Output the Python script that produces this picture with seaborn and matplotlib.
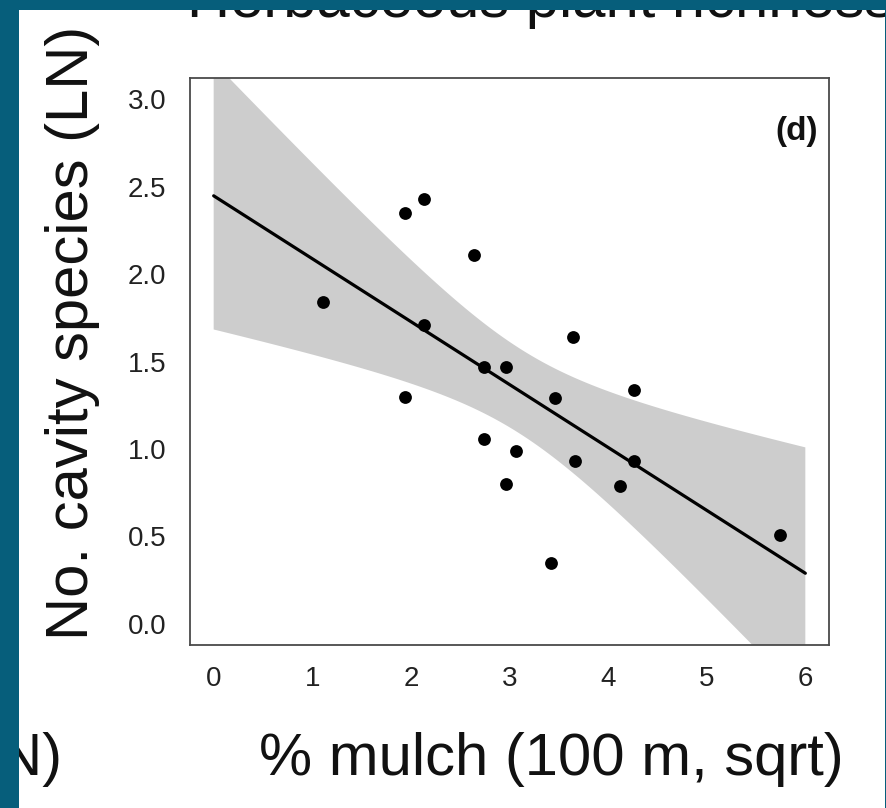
import numpy as np
import pandas as pd
import seaborn as sns
import matplotlib.pyplot as plt
from matplotlib.patches import Rectangle

# ---- data ----
mulch = [1.11, 1.94, 2.13, 2.13, 1.94, 2.64, 2.74, 2.96, 2.74, 3.07,
         2.96, 3.64, 3.46, 3.42, 3.66, 4.26, 4.26, 4.12, 5.74]
cavity = [1.84, 2.35, 2.43, 1.71, 1.30, 2.11, 1.47, 1.47, 1.06, 0.99,
          0.80, 1.64, 1.29, 0.35, 0.93, 1.34, 0.93, 0.79, 0.51]
x_ticks = [0, 1, 2, 3, 4, 5, 6]
y_ticks = [0.0, 0.5, 1.0, 1.5, 2.0, 2.5, 3.0]
y_tick_labels = ["0.0", "0.5", "1.0", "1.5", "2.0", "2.5", "3.0"]
x_label = "% mulch (100 m, sqrt)"
y_label = "No. cavity species (LN)"
title_text = "Herbaceous plant richness (LN)"
panel_tag = "(d)"
left_cut_text = "(LN)"
band_mult = 2.35  # width multiplier of the confidence band (standard errors)

sns.set_style("white")
plt.rcParams['font.family'] = ['Liberation Sans', 'DejaVu Sans']

W, H = 887, 808
fig = plt.figure(figsize=(W / 100, H / 100), dpi=100)
fig.patch.set_facecolor('white')

# axes box in pixels: left 190, right 829, top 78, bottom 645
ax = fig.add_axes([190 / W, 1 - 645 / H, (829 - 190) / W, (645 - 78) / H])
ax.set_facecolor('white')
ax.set_xlim(0, 6)

df = pd.DataFrame({'mulch': mulch, 'cavity': cavity})

# confidence band of the linear fit, computed from the data
xv = np.asarray(mulch)
yv = np.asarray(cavity)
n = len(xv)
slope, intercept = np.polyfit(xv, yv, 1)
resid = yv - (intercept + slope * xv)
s = np.sqrt((resid ** 2).sum() / (n - 2))
sxx = ((xv - xv.mean()) ** 2).sum()
grid = np.linspace(0, 6, 200)
yhat = intercept + slope * grid
se = s * np.sqrt(1 / n + (grid - xv.mean()) ** 2 / sxx)
ax.fill_between(grid, yhat - band_mult * se, yhat + band_mult * se,
                facecolor='#cdcdcd', edgecolor='none', zorder=1)

sns.regplot(data=df, x='mulch', y='cavity', ax=ax, truncate=False, ci=None,
            scatter_kws=dict(s=85, color='black', linewidths=0, zorder=4, alpha=1),
            line_kws=dict(color='black', lw=2.3, zorder=3))

ax.set_xlim(-0.24, 6.24)
ax.set_ylim(-0.12, 3.12)
ax.set_xticks(x_ticks)
ax.set_xticklabels([str(t) for t in x_ticks])
ax.set_yticks(y_ticks)
ax.set_yticklabels(y_tick_labels)
ax.set_xlabel('')
ax.set_ylabel('')

for sp in ax.spines.values():
    sp.set_visible(True)
    sp.set_color('#4a4a4a')
    sp.set_linewidth(1.3)

ax.tick_params(axis='both', direction='out', length=8, width=1.2,
               color='#4a4a4a', labelcolor='#222222', labelsize=20)
ax.tick_params(axis='y', pad=9)
ax.tick_params(axis='x', pad=7)

ax.text(0.983, 0.905, panel_tag, transform=ax.transAxes, ha='right', va='center',
        fontsize=24, fontweight='bold', color='#111111')

# axis labels as figure text
fig.text(551 / W, 1 - 775 / H, x_label, ha='center', va='baseline',
         fontsize=43, color='#111111')
fig.text(88 / W, 1 - 333 / H, y_label, rotation=90, rotation_mode='anchor',
         ha='center', va='baseline', fontsize=43, color='#111111')

# cut-off texts from neighbouring slide content
fig.text(187 / W, 1 - 17 / H, title_text, ha='left', va='baseline',
         fontsize=43, color='#111111')
fig.text(62 / W, 1 - 775 / H, left_cut_text, ha='right', va='baseline',
         fontsize=43, color='#111111')

# slide frame (teal)
teal = '#065e7b'
fig.add_artist(Rectangle((0, 0), 19 / W, 1, transform=fig.transFigure,
                         facecolor=teal, edgecolor='none', zorder=20))
fig.add_artist(Rectangle((0, 1 - 10 / H), 1, 10 / H, transform=fig.transFigure,
                         facecolor=teal, edgecolor='none', zorder=20))
fig.add_artist(Rectangle((885 / W, 0), 2 / W, 1, transform=fig.transFigure,
                         facecolor=teal, edgecolor='none', zorder=20))

fig.savefig('out.png', dpi=100)
